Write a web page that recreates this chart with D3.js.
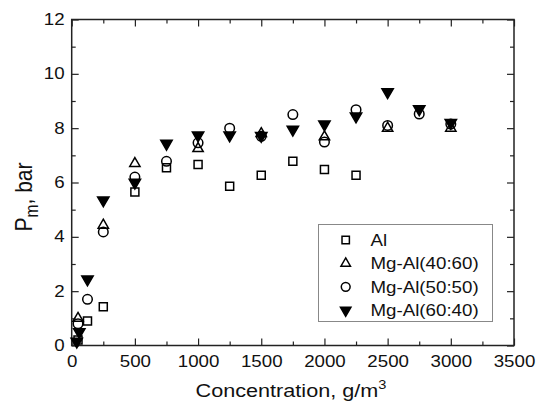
<!DOCTYPE html>
<html lang="en">

<head>
    <meta charset="UTF-8">
    <title>Pm vs concentration</title>
    <script src="https://cdn.jsdelivr.net/npm/d3@7"></script>
    <style>
        body { margin: 0; background: #fff; }
        text { font-family: "Liberation Sans", Arial, sans-serif; fill: #111; }
    </style>
</head>

<body>
    <svg id="chart" width="548" height="403"></svg>

    <script>
        // data
        const concAl = [50, 125, 250, 500, 750, 1000, 1250, 1500, 1750, 2000, 2250]
        const pmAl = [0.2, 0.9, 1.43, 5.65, 6.54, 6.66, 5.86, 6.27, 6.78, 6.48, 6.27]

        const conc4060 = [50, 250, 500, 1000, 1500, 2000, 2500, 3000]
        const pm4060 = [1.0, 4.43, 6.7, 7.25, 7.8, 7.68, 8.0, 8.0]

        const conc5050 = [50, 125, 250, 500, 750, 1000, 1250, 1500, 1750, 2000, 2250, 2500, 2750, 3000]
        const pm5050 = [0.8, 1.7, 4.18, 6.2, 6.78, 7.46, 8.0, 7.7, 8.5, 7.49, 8.68, 8.1, 8.52, 8.15]

        const conc6040 = [40, 60, 125, 250, 500, 750, 1000, 1250, 1500, 1750, 2000, 2250, 2500, 2750, 3000]
        const pm6040 = [0.15, 0.5, 2.44, 5.35, 6.0, 7.43, 7.74, 7.74, 7.72, 7.95, 8.14, 8.44, 9.33, 8.7, 8.2]

        const seriesNames = ['Al', 'Mg-Al(40:60)', 'Mg-Al(50:50)', 'Mg-Al(60:40)']
        const xTicks = [0, 500, 1000, 1500, 2000, 2500, 3000, 3500]
        const yTicks = [0, 2, 4, 6, 8, 10, 12]

        const stretch = 1.17   // the reference text is a bit wide

        const svg = d3.select('#chart')
        const x = d3.scaleLinear().domain([0, 3500]).range([71.7, 514])
        const y = d3.scaleLinear().domain([0, 12]).range([345.5, 19.5])

        const markers = [
            { type: d3.symbolSquare, size: 64, fill: 'none', rot: 0 },
            { type: d3.symbolTriangle, size: 46, fill: 'none', rot: 0 },
            { type: d3.symbolCircle, size: 72, fill: 'none', rot: 0 },
            { type: d3.symbolTriangle, size: 56, fill: '#000', rot: 180 }
        ]
        const series = [
            d3.zip(concAl, pmAl),
            d3.zip(conc4060, pm4060),
            d3.zip(conc5050, pm5050),
            d3.zip(conc6040, pm6040)
        ]

        // minor ticks live between the labelled ones
        const xMinor = xTicks.slice(0, -1).map(v => v + 250)
        const yMinor = yTicks.slice(0, -1).map(v => v + 1)

        const tickStyle = g => {
            g.select('.domain').remove()
            g.selectAll('line').attr('stroke', '#222').attr('stroke-width', 1.2)
        }

        const bottom = svg.append('g').attr('transform', `translate(0,${y(0)})`)
            .call(d3.axisBottom(x).tickValues(xTicks).tickFormat(d3.format('d'))
                .tickSizeInner(-7).tickSizeOuter(0).tickPadding(10))
            .call(tickStyle)
        bottom.selectAll('text')
            .attr('font-size', 16).attr('font-family', null)
            .attr('transform', `scale(${stretch},1)`)

        svg.append('g').attr('transform', `translate(0,${y(0)})`)
            .call(d3.axisBottom(x).tickValues(xMinor).tickSizeInner(-4).tickSizeOuter(0).tickFormat(''))
            .call(tickStyle)

        svg.append('g').attr('transform', `translate(0,${y(12)})`)
            .call(d3.axisTop(x).tickValues(xTicks).tickSizeInner(-7).tickSizeOuter(0).tickFormat(''))
            .call(tickStyle)
        svg.append('g').attr('transform', `translate(0,${y(12)})`)
            .call(d3.axisTop(x).tickValues(xMinor).tickSizeInner(-4).tickSizeOuter(0).tickFormat(''))
            .call(tickStyle)

        const left = svg.append('g').attr('transform', `translate(${x(0)},0)`)
            .call(d3.axisLeft(y).tickValues(yTicks).tickSizeInner(-7).tickSizeOuter(0).tickPadding(6))
            .call(tickStyle)
        left.selectAll('text')
            .attr('font-size', 16).attr('font-family', null)
            .attr('transform', `scale(${stretch},1)`)

        svg.append('g').attr('transform', `translate(${x(0)},0)`)
            .call(d3.axisLeft(y).tickValues(yMinor).tickSizeInner(-4).tickSizeOuter(0).tickFormat(''))
            .call(tickStyle)

        svg.append('g').attr('transform', `translate(${x(3500)},0)`)
            .call(d3.axisRight(y).tickValues(yTicks).tickSizeInner(-7).tickSizeOuter(0).tickFormat(''))
            .call(tickStyle)
        svg.append('g').attr('transform', `translate(${x(3500)},0)`)
            .call(d3.axisRight(y).tickValues(yMinor).tickSizeInner(-4).tickSizeOuter(0).tickFormat(''))
            .call(tickStyle)

        // frame
        svg.append('rect')
            .attr('x', x(0)).attr('y', y(12))
            .attr('width', x(3500) - x(0)).attr('height', y(0) - y(12))
            .attr('fill', 'none').attr('stroke', '#222').attr('stroke-width', 1.5)

        // points
        series.forEach((pts, i) => {
            const m = markers[i]
            svg.append('g').selectAll('path')
                .data(pts)
                .join('path')
                .attr('d', d3.symbol().type(m.type).size(m.size))
                .attr('transform', d => `translate(${x(d[0])},${y(d[1])}) rotate(${m.rot})`)
                .attr('fill', m.fill)
                .attr('stroke', '#000')
                .attr('stroke-width', 1.5)
        })

        // legend
        const legend = svg.append('g')
        legend.append('rect')
            .attr('x', 318.5).attr('y', 224.5).attr('width', 174).attr('height', 97)
            .attr('fill', '#fff').attr('stroke', '#888').attr('stroke-width', 1)
        seriesNames.forEach((name, i) => {
            const m = markers[i]
            const ly = 240 + i * 23.4
            legend.append('path')
                .attr('d', d3.symbol().type(m.type).size(m.size * 0.85)())
                .attr('transform', `translate(345.7,${ly}) rotate(${m.rot})`)
                .attr('fill', m.fill).attr('stroke', '#000').attr('stroke-width', 1.5)
            legend.append('text')
                .attr('transform', `translate(370.5,${ly + 5.8}) scale(${stretch},1)`)
                .attr('font-size', 16)
                .text(name)
        })

        // axis titles
        const xt = svg.append('text')
            .attr('transform', `translate(291,397) scale(${stretch},1)`)
            .attr('text-anchor', 'middle')
            .attr('font-size', 18.5)
        xt.append('tspan').text('Concentration, g/m')
        xt.append('tspan').attr('font-size', 12.5).attr('dy', -8).text('3')

        const yt = svg.append('text')
            .attr('transform', `translate(32,197) rotate(-90) scale(1,${stretch})`)
            .attr('text-anchor', 'middle')
            .attr('font-size', 21)
        yt.append('tspan').text('P')
        yt.append('tspan').attr('font-size', 15.5).attr('dy', 5).text('m')
        yt.append('tspan').attr('dy', -5).text(',  bar')
    </script>
</body>

</html>
